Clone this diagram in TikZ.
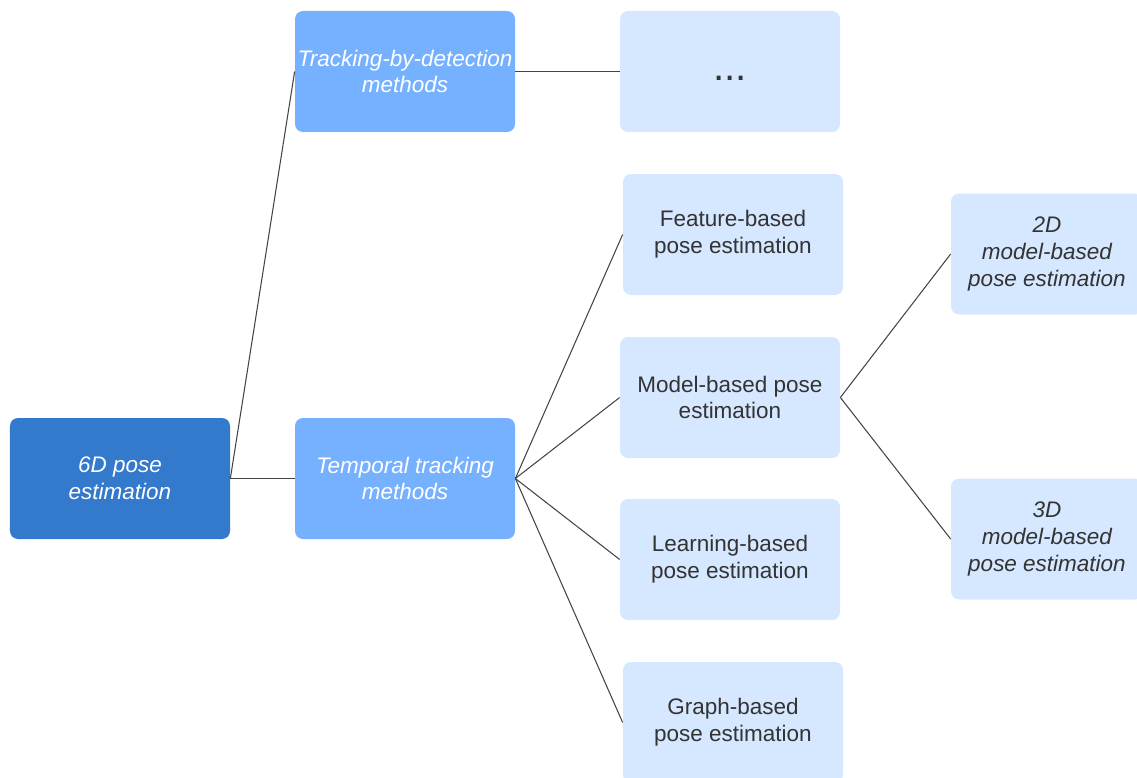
\documentclass[tikz,border=0pt]{standalone}
\usepackage{fontspec}
\setmainfont{Liberation Sans}
\usepackage{xcolor}
\usepackage{tikz}
\usetikzlibrary{positioning}

\definecolor{rootblue}{HTML}{3379CC}
\definecolor{midblue}{HTML}{76B1FF}
\definecolor{paleblue}{HTML}{D6E8FF}
\definecolor{linegray}{HTML}{444444}
\definecolor{textgray}{HTML}{333333}

\begin{document}
\begin{tikzpicture}[
        box/.style={rounded corners=0.16cm, minimum width=4.4cm, minimum height=2.42cm,
            align=center, inner sep=0pt, font=\fontsize{12.8}{15.3}\selectfont},
        rootbox/.style={box, fill=rootblue, text=white, font=\fontsize{12.8}{15.3}\selectfont\itshape},
        methodbox/.style={box, fill=midblue, text=white, font=\fontsize{12.8}{15.3}\selectfont\itshape},
        leafbox/.style={box, fill=paleblue, text=textgray},
        subbox/.style={leafbox, minimum width=3.84cm, font=\fontsize{12.8}{15.3}\selectfont\itshape},
        link/.style={draw=linegray, line width=0.6pt}
    ]
        \useasboundingbox (0, 0) rectangle (22.74, -15.56);
        \clip (0, 0) rectangle (22.74, -15.56);

        \node[rootbox] (pose) at (2.4, -9.57) {6D pose\\estimation};

        \node[methodbox] (detect) at (8.1, -1.43) {Tracking-by-detection\\methods};
        \node[methodbox] (temporal) at (8.1, -9.57) {Temporal tracking\\methods};

        \node[leafbox, font=\fontsize{23}{26}\selectfont] (more) at (14.6, -1.43) {\raisebox{-0.18cm}[0pt][0pt]{...}};

        \node[leafbox] (feature) at (14.66, -4.69) {Feature-based\\pose estimation};
        \node[leafbox] (model) at (14.6, -7.95) {Model-based pose\\estimation};
        \node[leafbox] (learning) at (14.6, -11.19) {Learning-based\\pose estimation};
        \node[leafbox] (graph) at (14.66, -14.45) {Graph-based\\pose estimation};

        \node[subbox] (twod) at (20.94, -5.08) {2D\\model-based\\pose estimation};
        \node[subbox] (threed) at (20.94, -10.78) {3D\\model-based\\pose estimation};

        \draw[link] (pose.east) -- (detect.west);
        \draw[link] (pose.east) -- (temporal.west);
        \draw[link] (detect.east) -- (more.west);

        \foreach \leaf in {feature, model, learning, graph}
            \draw[link] (temporal.east) -- (\leaf.west);

        \draw[link] (model.east) -- (twod.west);
        \draw[link] (model.east) -- (threed.west);

    \end{tikzpicture}
\end{document}
